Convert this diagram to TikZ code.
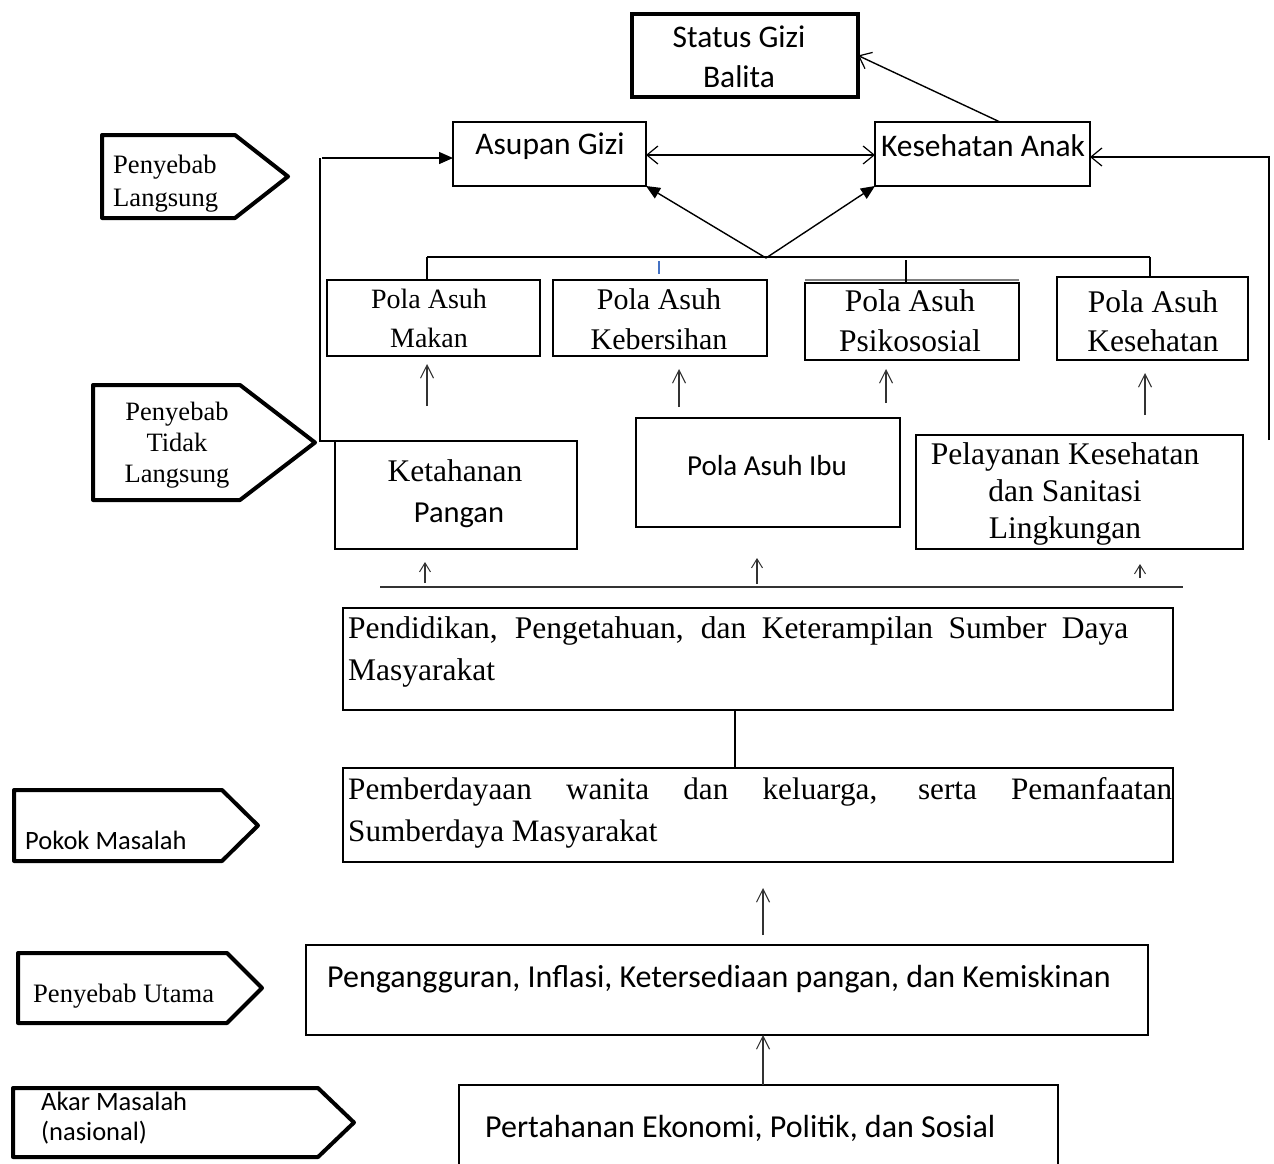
\documentclass[tikz,border=0pt]{standalone}
\usepackage{fontspec}
\setmainfont{Liberation Serif}
\newfontfamily\calfont{Carlito}
\usetikzlibrary{arrows.meta}
\definecolor{tickblue}{HTML}{4472C4}
\definecolor{arrgray}{HTML}{333333}
\newcommand\mkbox[6][]{\node[box,#1,minimum width={(#5-#3)*1pt},minimum height={(#6-#4)*1pt}] (#2) at ({(#3+#5)/2},{(#4+#6)/2}) {};}
\newcommand\mkpent[5]{\draw[pent] (#1,#2) -- (#3,#2) -- (#4,{(#2+#5)/2}) -- (#3,#5) -- (#1,#5) -- cycle;}
\begin{document}
\begin{tikzpicture}[x=1pt,y=-1pt,
  box/.style={draw,line width=1.4pt,inner sep=0pt,outer sep=0pt},
  thickbox/.style={box,line width=4.5pt},
  pent/.style={line width=4pt,line join=round},
  link/.style={line width=1.4pt},
  upar/.style={line width=1.3pt,draw=arrgray,-{Straight Barb[length=13pt,width=13pt,line width=1.1pt]}},
  smallup/.style={upar,-{Straight Barb[length=9pt,width=11pt,line width=1pt]}},
  openhead/.style={-{Straight Barb[length=11pt,width=18pt,line width=1.2pt]}},
  filledhead/.style={-{Triangle[length=14pt,width=12pt]}},
  sanstxt/.style={font=\calfont\fontsize{31.5}{40}\selectfont,inner sep=0pt},
  sertxt/.style={font=\fontsize{28}{38}\selectfont,inner sep=0pt},
  lbltxt/.style={font=\fontsize{26.6}{33}\selectfont,inner sep=0pt},
  lblsans/.style={font=\calfont\fontsize{26.5}{30}\selectfont,inner sep=0pt}]
\useasboundingbox (0,0) rectangle (1274,1163);

% ---------- boxes ----------
\mkbox[thickbox]{status}{632}{14}{858}{97}
\mkbox{asupan}{453}{122}{646}{186}
\mkbox{kesehatan}{875}{122}{1090}{186}
\mkbox{makan}{327}{280}{540}{356}
\mkbox{kebersihan}{553}{280}{767}{356}
\mkbox{psiko}{805}{283}{1019}{360}
\mkbox{kespola}{1057}{277}{1248}{360}
\mkbox{ketahanan}{335}{441}{577}{549}
\mkbox{ibu}{636}{418}{900}{527}
\mkbox{pelayanan}{916}{435}{1243}{549}
\mkbox{pendidikan}{343}{608}{1173}{710}
\mkbox{pemberdayaan}{343}{768}{1173}{862}
\mkbox{pengangguran}{306}{945}{1148}{1035}
\mkbox{pertahanan}{459}{1085}{1058}{1180}
\draw[line width=1.3pt,gray] (805,280) -- (1019,280);

% ---------- texts ----------
\node[sanstxt,align=center] (tstatus) at (739,57) {Status Gizi\\Balita};
\node[sanstxt] (tasupan) at (550,146) {Asupan Gizi};
\node[sanstxt] (tkes) at (983,146) {Kesehatan Anak};
\node[sertxt,align=center,font=\fontsize{28}{39}\selectfont] (tmakan) at (429,318) {Pola Asuh\\Makan};
\node[sertxt,align=center,font=\fontsize{30}{40}\selectfont] (tkeb) at (659,319) {Pola Asuh\\Kebersihan};
\node[sertxt,align=center,font=\fontsize{31.5}{40}\selectfont] (tpsi) at (910,321) {Pola Asuh\\Psikososial};
\node[sertxt,align=center,font=\fontsize{31.5}{39}\selectfont] (tkp) at (1153,321) {Pola Asuh\\Kesehatan};
\node[sertxt,font=\fontsize{31.5}{38}\selectfont] (tket) at (455,471) {Ketahanan};
\node[sanstxt,font=\calfont\fontsize{30.5}{38}\selectfont] (tpang) at (459,515) {Pangan};
\node[sanstxt,font=\calfont\fontsize{29}{38}\selectfont] (tibu) at (767,466) {Pola Asuh Ibu};
\node[sertxt,align=center,font=\fontsize{31.5}{37}\selectfont] (tpel) at (1065,494) {Pelayanan Kesehatan\\dan Sanitasi\\Lingkungan};
\node[sertxt,align=left,anchor=west,font=\fontsize{31.5}{42}\selectfont] (tpend) at (348,652)
  {\makebox[780pt][s]{Pendidikan, Pengetahuan, dan Keterampilan Sumber Daya}\\Masyarakat};
\node[sertxt,align=left,anchor=west,font=\fontsize{31.2}{42}\selectfont] (tpemb) at (348,813)
  {\makebox[824pt][s]{Pemberdayaan wanita dan keluarga, serta Pemanfaatan}\\Sumberdaya Masyarakat};
\node[sanstxt,anchor=west,font=\calfont\fontsize{32}{38}\selectfont] (tpeng) at (327,979) {Pengangguran, Inflasi, Ketersediaan pangan, dan Kemiskinan};
\node[sanstxt,anchor=west,font=\calfont\fontsize{32}{38}\selectfont] (tpert) at (485,1128) {Pertahanan Ekonomi, Politik, dan Sosial};

% ---------- left labels ----------
\mkpent{102}{135}{235}{288}{218}
\mkpent{93}{385}{240}{315}{500}
\mkpent{14}{790}{222}{258}{861}
\mkpent{18}{953}{227}{262}{1023}
\mkpent{13}{1088}{318}{354}{1157}
\node[lbltxt,align=left,anchor=west] (l1) at (113,184) {Penyebab\\Langsung};
\node[lbltxt,align=center,font=\fontsize{26.5}{31}\selectfont] (l2) at (177,445) {Penyebab\\Tidak\\Langsung};
\node[lblsans,anchor=west] (l3) at (25,840) {Pokok Masalah};
\node[lbltxt,anchor=west] (l4) at (33,996) {Penyebab Utama};
\node[lblsans,align=left,anchor=west] (l5) at (41,1118) {Akar Masalah\\(nasional)};

% ---------- connectors ----------
\coordinate (lefttop) at (320,158);
\coordinate (leftbot) at (320,441);
\draw[link] (ketahanan.north west) -- (leftbot) -- (lefttop);
\draw[link,filledhead] (322,158) -- (asupan.west |- 322,158);
\coordinate (righttop) at (1269,157);
\coordinate (rightbot) at (1269,440);
\draw[link,openhead] (rightbot) -- (righttop) -- (kesehatan.east |- righttop);
\draw[link,openhead] (kesehatan.north -| 1000,0) -- (status.east);
\draw[link,openhead] ([yshift=-1pt]asupan.east) -- ([yshift=-1pt]kesehatan.west);
\draw[link,openhead] ([yshift=-1pt]kesehatan.west) -- ([yshift=-1pt]asupan.east);

% bus
\coordinate (hub) at (766,258);
\coordinate (busL) at (427,257);
\coordinate (busR) at (1150,257);
\draw[link] (busL) -- (busR);
\draw[link] (busL) -- (makan.north -| busL);
\draw[link] (busR) -- (kespola.north -| busR);
\draw[link] (906,260) -- (906,284);
\draw[line width=1.6pt,tickblue] (659,261) -- (659,274);
\draw[link,filledhead] (hub) -- (asupan.south east);
\draw[link,filledhead] (hub) -- (kesehatan.south west);

% up arrows
\draw[upar] (427,406) -- (427,364);
\draw[upar] (679,407) -- (679,369);
\draw[upar] (886,403) -- (886,369);
\draw[upar] (1145,415) -- (1145,373);
\coordinate (lowbusL) at (380,587);
\coordinate (lowbusR) at (1183,587);
\draw[line width=1.6pt,draw=arrgray] (lowbusL) -- (lowbusR);
\draw[smallup] (425,583) -- (425,562);
\draw[smallup] (757,584) -- (757,558);
\draw[smallup] (1140,578) -- (1140,564);
\draw[link] (pendidikan.south -| 735,0) -- (pemberdayaan.north -| 735,0);
\draw[upar] (763,935) -- (763,888);
\draw[upar] (pertahanan.north -| 763,0) -- (pengangguran.south -| 763,0);
\end{tikzpicture}
\end{document}
